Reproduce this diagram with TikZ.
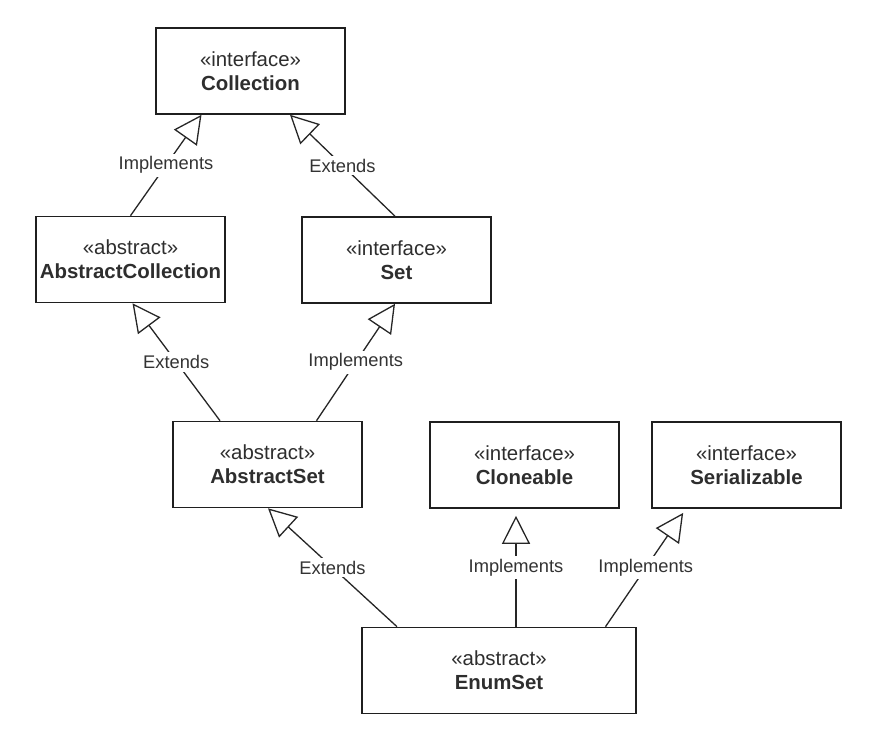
\documentclass[tikz,border=0pt]{standalone}
\usepackage{fontspec}
\setmainfont{Liberation Sans}
\usetikzlibrary{arrows.meta}
\tikzset{
  cls/.style={draw=black!88, line width=1.6pt, fill=white, minimum width=189pt, minimum height=86pt,
    inner sep=0pt, align=center, text=black!82, font=\fontsize{20.4}{24.3}\selectfont},
  conn/.style={draw=black!85, line width=1.3pt,
    -{Triangle[open, length=28pt, width=28pt, fill=white, line width=1.3pt]}},
  lbl/.style={fill=white, inner sep=3pt, text=black!80, font=\fontsize{18.3}{20}\selectfont}
}
\begin{document}
\begin{tikzpicture}[x=1pt,y=-1pt]
\useasboundingbox (0,0) rectangle (870,730);
\fill[white] (0,0) rectangle (870,730);
\node[cls] (coll) at (250.5,71) {«interface»\\\textbf{Collection}};
\node[cls] (ac) at (130.5,259.5) {«abstract»\\\textbf{AbstractCollection}};
\node[cls] (set) at (396.5,260) {«interface»\\\textbf{Set}};
\node[cls] (as) at (267.5,464.5) {«abstract»\\\textbf{AbstractSet}};
\node[cls] (clo) at (524.5,465) {«interface»\\\textbf{Cloneable}};
\node[cls] (ser) at (746.5,465) {«interface»\\\textbf{Serializable}};
\node[cls, minimum width=274pt] (es) at (499,670.5) {«abstract»\\\textbf{EnumSet}};

\draw[conn] (ac.north) -- node[lbl] {Implements} ([xshift=-49pt]coll.south);
\draw[conn] ([xshift=-1.5pt]set.north) -- node[lbl] {Extends} ([xshift=39.5pt]coll.south);
\draw[conn] ([xshift=-47.5pt]as.north) -- node[lbl] {Extends} ([xshift=2pt]ac.south);
\draw[conn] ([xshift=49pt]as.north) -- node[lbl] {Implements} ([xshift=-1.5pt]set.south);
\draw[conn] ([xshift=-102pt]es.north) -- node[lbl] {Extends} ([xshift=0.5pt]as.south);
\draw[conn, shorten >=7pt] ([xshift=17pt]es.north) -- node[lbl] {Implements} ([xshift=-8.5pt]clo.south);
\draw[conn, shorten >=5pt] ([xshift=106.5pt]es.north) -- node[lbl] {Implements} ([xshift=-60.5pt]ser.south);
\end{tikzpicture}
\end{document}
